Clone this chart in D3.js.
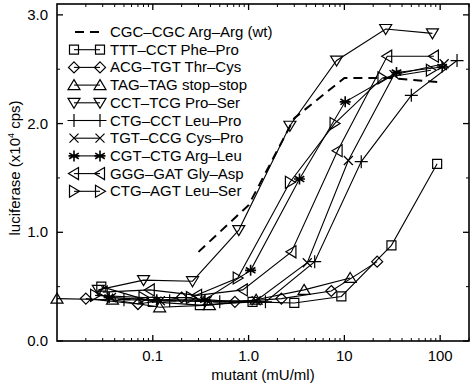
<!DOCTYPE html>
<html>
<head>
<meta charset="utf-8">
<script src="https://cdn.jsdelivr.net/npm/d3@7"></script>
<style>
  body { margin: 0; background: #fff; }
  text { font-family: "Liberation Sans", Arial, Helvetica, sans-serif; fill: #000; }
</style>
</head>
<body>
<svg id="chart" width="474" height="385"></svg>
<script>
// legend labels, in drawing order
var labels = [
    "CGC\u2013CGC Arg\u2013Arg (wt)",
    "TTT\u2013CCT Phe\u2013Pro",
    "ACG\u2013TGT Thr\u2013Cys",
    "TAG\u2013TAG stop\u2013stop",
    "CCT\u2013TCG Pro\u2013Ser",
    "CTG\u2013CCT Leu\u2013Pro",
    "TGT\u2013CCG Cys\u2013Pro",
    "CGT\u2013CTG Arg\u2013Leu",
    "GGG\u2013GAT Gly\u2013Asp",
    "CTG\u2013AGT Leu\u2013Ser"
];
var markers = ["none", "square", "diamond", "triUp", "triDown", "plus", "cross", "star", "triLeft", "triRight"];

// mutant (mU/ml) and luciferase (x10^4 cps) per series
var wtX = [0.3, 1, 3, 10, 30, 100];
var wtY = [0.82, 1.25, 2.05, 2.42, 2.42, 2.38];
var pheProX = [0.029, 0.1, 0.31, 1.1, 3.0, 9.3, 31, 93];
var pheProY = [0.50, 0.36, 0.33, 0.36, 0.35, 0.41, 0.88, 1.63];
var thrCysX = [0.02, 0.07, 0.2, 0.72, 2.2, 7.3, 22];
var thrCysY = [0.39, 0.34, 0.40, 0.36, 0.39, 0.46, 0.73];
var stopX = [0.01, 0.038, 0.118, 0.39, 1.2, 3.8, 11.5];
var stopY = [0.39, 0.38, 0.31, 0.33, 0.38, 0.47, 0.58];
var proSerX = [0.027, 0.08, 0.26, 0.79, 2.7, 8.3, 27, 83];
var proSerY = [0.47, 0.56, 0.55, 1.02, 1.98, 2.58, 2.87, 2.83];
var leuProX = [0.05, 0.15, 0.5, 1.5, 4.9, 15, 50, 150];
var leuProY = [0.38, 0.37, 0.36, 0.36, 0.73, 1.65, 2.26, 2.58];
var cysProX = [0.037, 0.12, 0.37, 1.2, 4.1, 11, 33, 110];
var cysProY = [0.40, 0.37, 0.37, 0.37, 0.72, 1.66, 2.45, 2.55];
var argLeuX = [0.035, 0.11, 0.35, 1.05, 3.4, 10.2, 35, 105];
var argLeuY = [0.40, 0.38, 0.38, 0.65, 1.49, 2.20, 2.47, 2.52];
var glyAspX = [0.03, 0.093, 0.29, 0.87, 2.8, 8.5, 28, 86];
var glyAspY = [0.45, 0.47, 0.42, 0.47, 0.82, 1.75, 2.62, 2.62];
var leuSerX = [0.025, 0.08, 0.25, 0.77, 2.7, 7.9, 25, 80];
var leuSerY = [0.42, 0.40, 0.40, 0.58, 1.46, 2.00, 2.42, 2.49];

var xTickValues = [0.1, 1, 10, 100];
var xTickLabels = ["0.1", "1.0", "10", "100"];
var yTickValues = [0, 1, 2, 3];
var yTickLabels = ["0.0", "1.0", "2.0", "3.0"];

var allX = [wtX, pheProX, thrCysX, stopX, proSerX, leuProX, cysProX, argLeuX, glyAspX, leuSerX];
var allY = [wtY, pheProY, thrCysY, stopY, proSerY, leuProY, cysProY, argLeuY, glyAspY, leuSerY];

// frame edges (window.top is reserved, so prefix them)
var pLeft = 57, pRight = 469, pTop = 4, pBottom = 341;
var fontSize = 15;
var svg = d3.select("#chart");

var x = d3.scaleLog().domain([0.01, 200]).range([pLeft, pRight]);
var y = d3.scaleLinear().domain([0, 3.1]).range([pBottom, pTop]);

/* marker shapes, centred on 0,0 */
function markerPath(type) {
    switch (type) {
        case "square": return "M-4.5,-4.5H4.5V4.5H-4.5Z";
        case "diamond": return "M0,-5.5L5.5,0L0,5.5L-5.5,0Z";
        case "triUp": return "M0,-5.5L6,4.5L-6,4.5Z";
        case "triDown": return "M0,5.5L6,-4.5L-6,-4.5Z";
        case "triLeft": return "M-5.5,0L4.5,-6L4.5,6Z";
        case "triRight": return "M5.5,0L-4.5,-6L-4.5,6Z";
        case "plus": return "M-6.5,0H6.5M0,-6.5V6.5";
        case "cross": return "M-4.5,-4.5L4.5,4.5M-4.5,4.5L4.5,-4.5";
        case "star": return "M0,-5.5V5.5M-4.8,-2.8L4.8,2.8M-4.8,2.8L4.8,-2.8M-5.5,0H5.5";
        default: return "";
    }
}

// minor ticks: 2..9 in every decade
var xMinor = [];
[0.01, 0.1, 1, 10, 100].forEach(function(dec) {
    for (var k = 2; k <= 9; k++) {
        if (dec * k <= 200) xMinor.push(dec * k);
    }
});
var yMinor = [0.5, 1.5, 2.5];

var axes = svg.append("g").attr("stroke", "#000").attr("fill", "none");

function vTicks(vals, y0, len, w) {
    axes.selectAll(null).data(vals).enter().append("line")
        .attr("x1", function(d) { return x(d); }).attr("x2", function(d) { return x(d); })
        .attr("y1", y0).attr("y2", y0 + len).attr("stroke-width", w);
}
function hTicks(vals, x0, len, w) {
    axes.selectAll(null).data(vals).enter().append("line")
        .attr("x1", x0).attr("x2", x0 + len)
        .attr("y1", function(d) { return y(d); }).attr("y2", function(d) { return y(d); }).attr("stroke-width", w);
}

// ticks on all four sides, pointing in
vTicks(xTickValues, pBottom, -6, 1.3);
vTicks(xTickValues, pTop, 6, 1.3);
vTicks(xMinor, pBottom, -3, 1);
vTicks(xMinor, pTop, 3, 1);
hTicks(yTickValues, pLeft, 6, 1.3);
hTicks(yTickValues, pRight, -6, 1.3);
hTicks(yMinor, pLeft, 3, 1);
hTicks(yMinor, pRight, -3, 1);

axes.append("rect")
    .attr("x", pLeft).attr("y", pTop)
    .attr("width", pRight - pLeft).attr("height", pBottom - pTop)
    .attr("stroke-width", 1.6);

// tick labels
svg.selectAll("text.xl").data(xTickValues).enter().append("text")
    .attr("x", function(d) { return x(d); }).attr("y", pBottom + 20)
    .attr("text-anchor", "middle").attr("font-size", fontSize)
    .text(function(d, i) { return xTickLabels[i]; });
svg.selectAll("text.yl").data(yTickValues).enter().append("text")
    .attr("x", pLeft - 9).attr("y", function(d) { return y(d) + 5; })
    .attr("text-anchor", "end").attr("font-size", fontSize)
    .text(function(d, i) { return yTickLabels[i]; });

// axis titles
svg.append("text").attr("x", 263).attr("y", 380)
    .attr("text-anchor", "middle").attr("font-size", fontSize)
    .text("mutant (mU/ml)");
var yt = svg.append("text")
    .attr("transform", "translate(20,168) rotate(-90)")
    .attr("text-anchor", "middle").attr("font-size", fontSize);
yt.append("tspan").text("luciferase (x10");
yt.append("tspan").attr("font-size", 9).attr("dy", -6).text("4");
yt.append("tspan").attr("dy", 6).text(" cps)");

// series lines
var line = d3.line()
    .x(function(d) { return x(d[0]); })
    .y(function(d) { return y(d[1]); });

var plot = svg.append("g");
allX.forEach(function(xs, i) {
    var pts = xs.map(function(v, j) { return [v, allY[i][j]]; });
    plot.append("path")
        .datum(pts)
        .attr("d", line)
        .attr("fill", "none")
        .attr("stroke", "#000")
        .attr("stroke-width", i === 0 ? 2 : 1.1)
        .attr("stroke-dasharray", i === 0 ? "9,6" : null);
});

// markers
allX.forEach(function(xs, i) {
    if (markers[i] === "none") return;
    plot.selectAll(null).data(xs).enter().append("path")
        .attr("transform", function(v, j) { return "translate(" + x(v) + "," + y(allY[i][j]) + ")"; })
        .attr("d", markerPath(markers[i]))
        .attr("fill", "none")
        .attr("stroke", "#000")
        .attr("stroke-width", markers[i] === "star" ? 1.6 : 1.2);
});

// legend
var legend = svg.append("g");
labels.forEach(function(lab, i) {
    var ly = 32 + i * 17.7;
    legend.append("line")
        .attr("x1", i === 0 ? 75 : 74).attr("x2", i === 0 ? 101 : 100)
        .attr("y1", ly).attr("y2", ly)
        .attr("stroke", "#000")
        .attr("stroke-width", i === 0 ? 2 : 1.1)
        .attr("stroke-dasharray", i === 0 ? "9,6" : null);
    if (markers[i] !== "none") {
        [74, 100].forEach(function(mx) {
            legend.append("path")
                .attr("transform", "translate(" + mx + "," + ly + ")")
                .attr("d", markerPath(markers[i]))
                .attr("fill", "none").attr("stroke", "#000")
                .attr("stroke-width", markers[i] === "star" ? 1.6 : 1.2);
        });
    }
    legend.append("text")
        .attr("x", 110).attr("y", ly + 5)
        .attr("font-size", fontSize)
        .text(lab);
});
</script>
</body>
</html>
